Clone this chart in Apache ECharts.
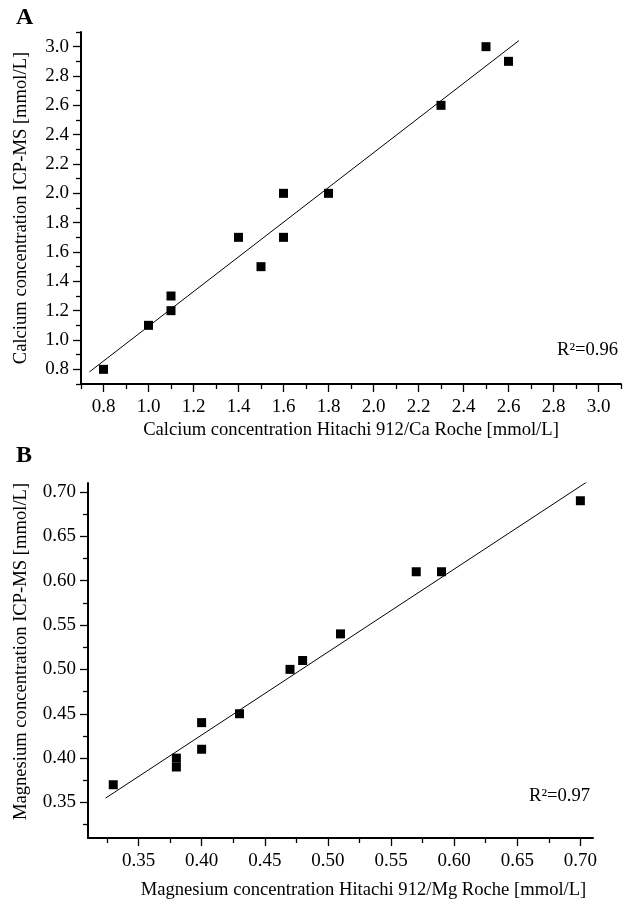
<!DOCTYPE html>
<html>
<head>
<meta charset="utf-8">
<script src="https://cdn.jsdelivr.net/npm/echarts@6/dist/echarts.min.js"></script>
<style>
html,body{margin:0;padding:0;background:#fff;}
#chart{width:626px;height:901px;}
</style>
</head>
<body>
<div id="chart"></div>
<script>
// Panel A: calcium
const caX = [0.8, 1.0, 1.1, 1.1, 1.4, 1.5, 1.6, 1.6, 1.8, 2.3, 2.5, 2.6];
const caY = [0.8, 1.1, 1.2, 1.3, 1.7, 1.5, 1.7, 2.0, 2.0, 2.6, 3.0, 2.9];
const caFitX = [0.737, 2.646];
const caFitY = [0.782, 3.041];
const caTicks = [0.8, 1.0, 1.2, 1.4, 1.6, 1.8, 2.0, 2.2, 2.4, 2.6, 2.8, 3.0];
const caMinor = [0.7, 0.9, 1.1, 1.3, 1.5, 1.7, 1.9, 2.1, 2.3, 2.5, 2.7, 2.9, 3.1];
const caR2 = 'R\u00B2=0.96';

// Panel B: magnesium
const mgX = [0.33, 0.38, 0.38, 0.40, 0.40, 0.43, 0.47, 0.48, 0.51, 0.57, 0.59, 0.70];
const mgY = [0.37, 0.40, 0.39, 0.44, 0.41, 0.45, 0.50, 0.51, 0.54, 0.61, 0.61, 0.69];
const mgFitX = [0.324, 0.706];
const mgFitY = [0.355, 0.712];
const mgTicks = [0.35, 0.40, 0.45, 0.50, 0.55, 0.60, 0.65, 0.70];
const mgMinor = [0.325, 0.375, 0.425, 0.475, 0.525, 0.575, 0.625, 0.675];
const mgR2 = 'R\u00B2=0.97';

const FONT = 'Liberation Serif';
const FS = 18.6;
const LFS = 19;

function majorAxis(grid, pos, min, max, ticks, digits, name, nameGap, namePad, margin) {
  return {
    type: 'value', gridIndex: grid, position: pos, min: min, max: max,
    name: name, nameLocation: 'middle', nameGap: nameGap,
    nameTextStyle: {fontFamily: FONT, fontSize: FS, color: '#000', padding: namePad || 0},
    axisLine: {show: true, onZero: false, lineStyle: {color: '#000', width: 2}},
    axisTick: {show: true, inside: false, length: 8, customValues: ticks, lineStyle: {color: '#000', width: 1.3}},
    axisLabel: {show: true, margin: margin, customValues: ticks, color: '#000', fontFamily: FONT, fontSize: LFS,
      formatter: v => Number(v).toFixed(digits)},
    splitLine: {show: false}
  };
}
function minorAxis(grid, pos, min, max, ticks) {
  return {
    type: 'value', gridIndex: grid, position: pos, min: min, max: max,
    axisLine: {show: false, onZero: false},
    axisTick: {show: true, inside: false, length: 5, customValues: ticks, lineStyle: {color: '#000', width: 1.3}},
    axisLabel: {show: false},
    splitLine: {show: false}
  };
}
function pairs(xs, ys) { return xs.map((x, i) => [x, ys[i]]); }

const chart = echarts.init(document.getElementById('chart'), null, {renderer: 'canvas'});
chart.setOption({
  backgroundColor: '#fff',
  animation: false,
  grid: [
    {left: 81, top: 32, width: 540, height: 352},
    {left: 88, top: 483, width: 505, height: 355}
  ],
  xAxis: [
    majorAxis(0, 'bottom', 0.7, 3.1, caTicks, 1, 'Calcium concentration Hitachi 912/Ca Roche [mmol/L]', 37, 0, 14),
    minorAxis(0, 'bottom', 0.7, 3.1, caMinor),
    majorAxis(1, 'bottom', 0.31, 0.71, mgTicks, 2, 'Magnesium concentration Hitachi 912/Mg Roche [mmol/L]', 43, [0, 0, 0, 46], 14),
    minorAxis(1, 'bottom', 0.31, 0.71, mgMinor)
  ],
  yAxis: [
    majorAxis(0, 'left', 0.7, 3.1, caTicks, 1, 'Calcium concentration ICP-MS [mmol/L]', 50, 0, 12),
    minorAxis(0, 'left', 0.7, 3.1, caMinor),
    majorAxis(1, 'left', 0.31, 0.71, mgTicks, 2, 'Magnesium concentration ICP-MS [mmol/L]', 57, [0, 0, 0, 18], 12),
    minorAxis(1, 'left', 0.31, 0.71, mgMinor)
  ],
  series: [
    {type: 'line', xAxisIndex: 0, yAxisIndex: 0, data: pairs(caFitX, caFitY), showSymbol: false,
      lineStyle: {color: '#000', width: 1}, silent: true},
    {type: 'scatter', xAxisIndex: 0, yAxisIndex: 0, data: pairs(caX, caY), symbol: 'rect', symbolSize: 9,
      itemStyle: {color: '#000', opacity: 1}},
    {type: 'line', xAxisIndex: 2, yAxisIndex: 2, data: pairs(mgFitX, mgFitY), showSymbol: false,
      lineStyle: {color: '#000', width: 1}, silent: true},
    {type: 'scatter', xAxisIndex: 2, yAxisIndex: 2, data: pairs(mgX, mgY), symbol: 'rect', symbolSize: 9,
      itemStyle: {color: '#000', opacity: 1}}
  ],
  graphic: [
    {type: 'text', left: 16, top: 6, style: {text: 'A', fontFamily: FONT, fontSize: 24, fontWeight: 'bold', fill: '#000'}},
    {type: 'text', left: 16, top: 444, style: {text: 'B', fontFamily: FONT, fontSize: 24, fontWeight: 'bold', fill: '#000'}},
    {type: 'text', right: 8, top: 341, style: {text: caR2, fontFamily: FONT, fontSize: FS, fill: '#000'}},
    {type: 'text', right: 36, top: 787, style: {text: mgR2, fontFamily: FONT, fontSize: FS, fill: '#000'}}
  ]
});
</script>
</body>
</html>
